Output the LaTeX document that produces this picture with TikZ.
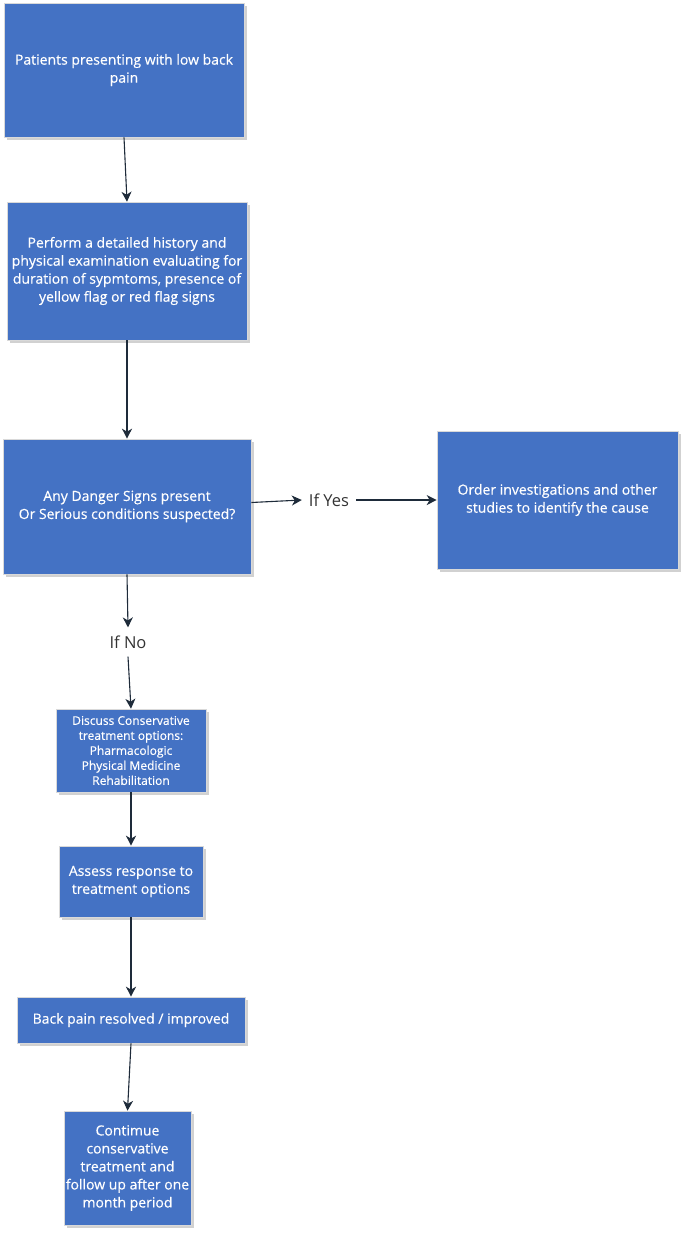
\documentclass[tikz,border=0pt]{standalone}
\usepackage{fontspec}
\setmainfont{Open Sans}
\newfontfamily\boxfont{Open Sans}[FakeBold=0.4]
\usetikzlibrary{arrows.meta,shadows,calc}
\definecolor{boxblue}{HTML}{4472C4}
\definecolor{arrowc}{HTML}{1E2B3A}
\begin{document}
\begin{tikzpicture}[x=1pt,y=-1pt,
  fbox/.style={rectangle, fill=boxblue, draw=white!85!black, line width=0.6pt,
    text=white, align=center, inner sep=0pt,
    font=\boxfont\fontsize{14}{18}\selectfont,
    drop shadow={shadow xshift=2.5pt, shadow yshift=-2.5pt, fill=black!40, opacity=0.45}},
  smallbox/.style={fbox, font=\boxfont\fontsize{12}{15}\selectfont},
  lbl/.style={text=black!80, font=\fontsize{16.5}{18}\selectfont, inner xsep=7pt, inner ysep=2pt},
  conn/.style={draw=arrowc, line width=1.1pt, -{Stealth[length=10pt,width=10pt,inset=3pt]}}
]
\useasboundingbox (0,0) rectangle (688,1235);

\node[fbox, minimum width=240pt, minimum height=134pt] (b1) at (124,70)
  {Patients presenting with low back\\pain};
\node[fbox, minimum width=240pt, minimum height=138pt] (b2) at (127,271)
  {Perform a detailed history and\\physical examination evaluating for\\duration of sypmtoms, presence of\\yellow flag or red flag signs};
\node[fbox, minimum width=248pt, minimum height=135pt] (b3) at (127,506.5)
  {Any Danger Signs present\\Or Serious conditions suspected?};
\node[fbox, minimum width=241pt, minimum height=138pt] (b4) at (557.5,500)
  {Order investigations and other\\studies to identify the cause};
\node[smallbox, minimum width=150pt, minimum height=83pt] (b5) at (131,750.5)
  {Discuss Conservative\\treatment options:\\Pharmacologic\\Physical Medicine\\Rehabilitation};
\node[fbox, minimum width=144pt, minimum height=71pt] (b6) at (131,881.5)
  {Assess response to\\treatment options};
\node[fbox, minimum width=228pt, minimum height=46pt] (b7) at (131,1020)
  {Back pain resolved / improved};
\node[fbox, minimum width=127pt, minimum height=114pt] (b8) at (127.5,1168)
  {Contimue\\conservative\\treatment and\\follow up after one\\month period};

\node[lbl] (yes) at (329,500) {If Yes};
\node[lbl, inner ysep=8pt] (no) at (128,642) {If No};

\draw[conn] (b1.south) -- (b2.north);
\draw[conn] (b2.south) -- (b3.north);
\draw[conn] ($(b3.east)+(0,-4)$) -- (yes.west);
\draw[conn] (yes.east) -- (b4.west);
\draw[conn] (b3.south) -- (no.north);
\draw[conn] (no.south) -- (b5.north);
\draw[conn] (b5.south) -- (b6.north);
\draw[conn] (b6.south) -- (b7.north);
\draw[conn] (b7.south) -- (b8.north);
\end{tikzpicture}
\end{document}
